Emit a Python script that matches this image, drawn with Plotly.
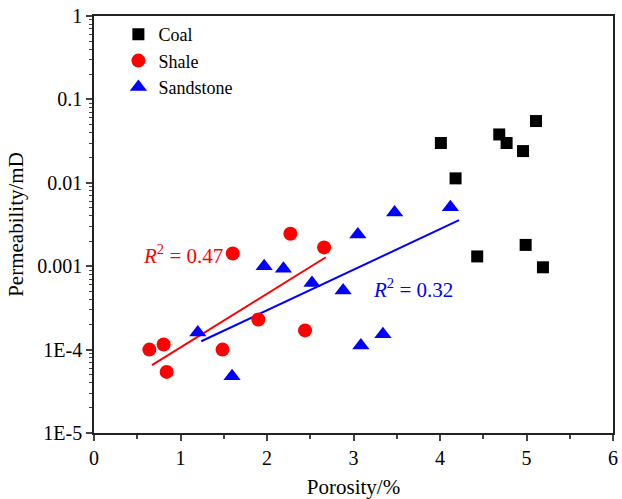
import plotly.graph_objects as go
import math

# Coal data
coal_x = [4.01, 4.18, 4.685, 4.77, 4.96, 5.11, 4.99, 4.43, 5.19]
coal_y = [0.030, 0.0113, 0.038, 0.030, 0.024, 0.055, 0.0018, 0.00131, 0.00097]

# Shale data
shale_x = [0.64, 0.805, 0.84, 1.486, 1.604, 1.90, 2.44, 2.27, 2.66]
shale_y = [1.0e-4, 1.15e-4, 5.4e-5, 1.0e-4, 0.00142, 2.3e-4, 1.7e-4, 0.00245, 0.00168]

# Sandstone data
sand_x = [1.20, 1.596, 1.967, 2.19, 2.52, 2.88, 3.085, 3.34, 3.05, 3.475, 4.12]
sand_y = [1.6e-4, 4.8e-5, 0.0010, 0.00093, 0.00063, 0.00051, 1.12e-4, 1.53e-4, 0.0024, 0.0044, 0.0051]

# Fit line endpoints
shale_fit_x = [0.67, 2.68]
shale_fit_y = [6.5e-5, 1.28e-3]
sand_fit_x = [1.24, 4.22]
sand_fit_y = [1.26e-4, 3.56e-3]

# R^2 labels
r2_labels = ["0.47", "0.32"]
r2_pos_x = [0.546, 3.2]
r2_pos_y = [1.38e-3, 5.4e-4]

y_tickvals = [1e-5, 1e-4, 1e-3, 1e-2, 1e-1, 1]
y_ticktext = ["1E-5", "1E-4", "0.001", "0.01", "0.1", "1"]
x_tickvals = [0, 1, 2, 3, 4, 5, 6]

FONT = "Times New Roman, Liberation Serif, serif"

fig = go.Figure()
fig.add_trace(go.Scatter(x=shale_fit_x, y=shale_fit_y, mode="lines",
                         line=dict(color="#ff0000", width=2), showlegend=False))
fig.add_trace(go.Scatter(x=sand_fit_x, y=sand_fit_y, mode="lines",
                         line=dict(color="#0000ff", width=2), showlegend=False))
fig.add_trace(go.Scatter(x=coal_x, y=coal_y, mode="markers", name="Coal",
                         marker=dict(symbol="square", size=12, color="#000000")))
fig.add_trace(go.Scatter(x=shale_x, y=shale_y, mode="markers", name="Shale",
                         marker=dict(symbol="circle", size=14, color="#ff0000")))
fig.add_trace(go.Scatter(x=sand_x, y=sand_y, mode="markers", name="Sandstone",
                         marker=dict(symbol="triangle-up", size=15, color="#0000ff")))

for lab, px, py, col in zip(r2_labels, r2_pos_x, r2_pos_y, ["#ff0000", "#0000ff"]):
    fig.add_annotation(x=px, y=math.log10(py), xref="x", yref="y", xanchor="left", yanchor="middle",
                       text="<i>R</i><sup>2</sup> = " + lab, showarrow=False,
                       font=dict(family=FONT, size=21, color=col))

minor_y = [m * 10 ** e for e in range(-5, 0) for m in range(2, 10)]

fig.update_layout(
    width=622, height=499,
    margin=dict(l=94, r=4, t=16, b=61),
    paper_bgcolor="white", plot_bgcolor="white",
    font=dict(family=FONT, size=20, color="#000000"),
    showlegend=True,
    legend=dict(x=0.047, y=1.0, xanchor="left", yanchor="top",
                bgcolor="rgba(0,0,0,0)", font=dict(family=FONT, size=18, color="#000000"),
                itemsizing="trace", tracegroupgap=0),
    xaxis=dict(range=[0, 6], tickvals=x_tickvals, ticks="outside", ticklen=6, tickwidth=1.5,
               showline=True, linecolor="#222222", linewidth=1.5, mirror=True,
               showgrid=False, zeroline=False,
               minor=dict(dtick=0.5, ticks="outside", ticklen=4, tickwidth=1.5, showgrid=False),
               title=dict(text="Porosity/%", font=dict(family=FONT, size=21, color="#000000"), standoff=12),
               tickfont=dict(family=FONT, size=20, color="#000000")),
    yaxis=dict(type="log", range=[-5, 0], tickvals=y_tickvals, ticktext=y_ticktext,
               ticks="outside", ticklen=6, tickwidth=1.5,
               showline=True, linecolor="#222222", linewidth=1.5, mirror=True,
               showgrid=False, zeroline=False,
               minor=dict(tickvals=minor_y, ticks="outside", ticklen=3.5, tickwidth=1.2, showgrid=False),
               title=dict(text="Permeability/mD", font=dict(family=FONT, size=21, color="#000000"), standoff=8),
               tickfont=dict(family=FONT, size=20, color="#000000")),
)

fig.write_html("out.html")
